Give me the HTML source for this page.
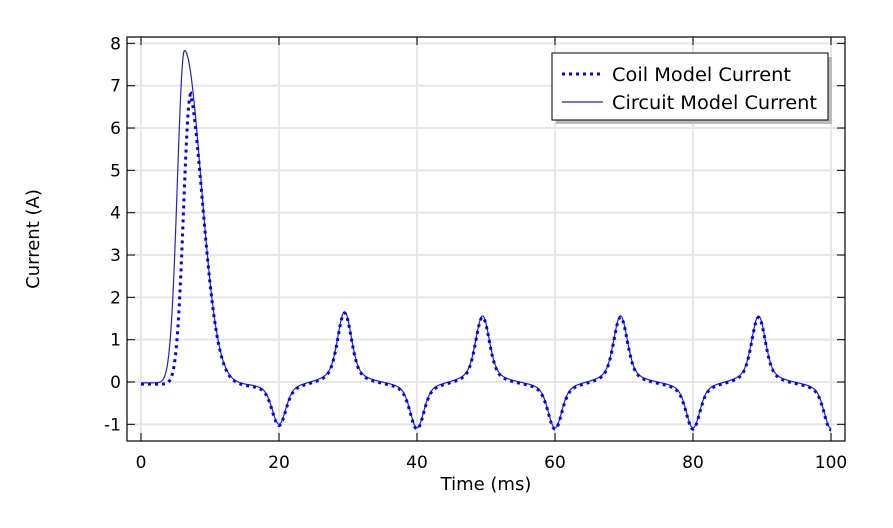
<!DOCTYPE html>
<html><head><meta charset="utf-8"><style>
body{margin:0;background:#fff;}
svg{display:block;font-family:"DejaVu Sans","Liberation Sans",sans-serif;}
</style></head><body>
<svg id="s" width="893" height="528" viewBox="0 0 893 528">
<rect width="893" height="528" fill="#fff"/>
<g id="grid" stroke="#e6e6e6" stroke-width="2"></g>
<g id="curves"></g>
<rect x="127" y="37" width="718" height="404" fill="none" stroke="#000" stroke-width="1.2"/>
<g id="ticks" stroke="#000" stroke-width="1"></g>
<g id="labels" font-size="17" fill="#000"></g>
<text x="486" y="490" font-size="18" text-anchor="middle">Time (ms)</text>
<text transform="translate(39,239) rotate(-90)" font-size="18" text-anchor="middle">Current (A)</text>
<rect x="556" y="57" width="276" height="67" fill="#bbb"/>
<rect x="552" y="53" width="276" height="67" fill="#fff" stroke="#000" stroke-width="1"/>
<line x1="562" y1="74" x2="601" y2="74" stroke="#0000ff" stroke-width="3" stroke-dasharray="3,4"/>
<line x1="562" y1="102" x2="603" y2="102" stroke="#2222cc" stroke-width="1.2"/>
<text x="612" y="81" font-size="18.5" textLength="179" lengthAdjust="spacingAndGlyphs">Coil Model Current</text>
<text x="612" y="109" font-size="18.5" textLength="205" lengthAdjust="spacingAndGlyphs">Circuit Model Current</text>
</svg>
<script>
var X=function(t){return 141+6.9*t;},Y=function(v){return 382-42.33*v;};
var NS="http://www.w3.org/2000/svg";
function el(p,n,a,txt){var e=document.createElementNS(NS,n);for(var k in a)e.setAttribute(k,a[k]);if(txt!=null)e.textContent=txt;document.getElementById(p).appendChild(e);}
for(var t=0;t<=100;t+=20){el('grid','line',{x1:X(t),y1:37,x2:X(t),y2:441});
 el('ticks','line',{x1:X(t),y1:441,x2:X(t),y2:433});el('ticks','line',{x1:X(t),y1:37,x2:X(t),y2:45});
 el('labels','text',{x:X(t),y:468,'text-anchor':'middle'},t);}
for(var v=-1;v<=8;v++){el('grid','line',{x1:127,y1:Y(v),x2:845,y2:Y(v)});
 el('ticks','line',{x1:127,y1:Y(v),x2:135,y2:Y(v)});el('ticks','line',{x1:845,y1:Y(v),x2:837,y2:Y(v)});
 el('labels','text',{x:121,y:Y(v)+6,'text-anchor':'end'},v);}
function g(x,A){return A*(0.6*Math.exp(-Math.pow(x/1.3,2))+0.4/(1+Math.pow(x/1.8,2)));}
function per(t){var s=0;var tr=[[20,-1.0],[40,-1.1],[60,-1.1],[80,-1.1],[100,-1.1]];
 var pk=[[29.5,1.7],[49.5,1.6],[69.5,1.6],[89.5,1.6]];
 tr.forEach(function(a){s+=g(t-a[0],a[1]);});pk.forEach(function(a){s+=g(t-a[0],a[1]);});
 var w=t<12?0:(t<15?(t-12)/3:1);return s*w;}
function circ(t){var p=t<6.3?7.85*Math.exp(-Math.pow((t-6.3)/1.45,2)):7.85*Math.exp(-Math.pow((t-6.3)/3.4,2));return p+per(t)-0.02;}
function coil(t){var p;if(t<7.2)p=6.85*Math.exp(-Math.pow((t-7.2)/1.45,2));
 else p=7.85*Math.exp(-Math.pow((t-6.3)/3.4,2))-0.52*Math.exp(-(t-7.2)/0.8);return p+per(t)-0.05;}
function path(f){var d='';for(var t=0;t<=100.001;t+=0.05){d+=(t==0?'M':'L')+X(t).toFixed(2)+','+Y(f(t)).toFixed(2);}return d;}
el('curves','path',{d:path(circ),fill:'none',stroke:'#2222cc','stroke-width':1.2});
el('curves','path',{d:path(coil),fill:'none',stroke:'#0000ff','stroke-width':3,'stroke-dasharray':'3,4'});
</script>
</body></html>
